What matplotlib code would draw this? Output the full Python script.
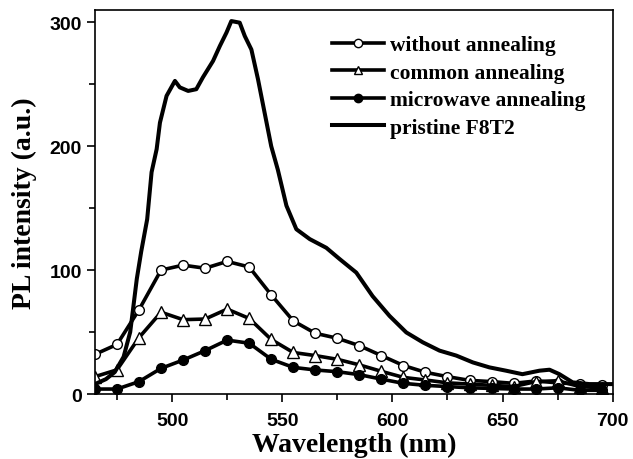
import numpy as np
import matplotlib.pyplot as plt

# marker series, every 10 nm
wl = [465, 475, 485, 495, 505, 515, 525, 535, 545, 555, 565, 575,
      585, 595, 605, 615, 625, 635, 645, 655, 665, 675, 685, 695]
without_ann = [32, 40, 68, 100, 104, 101.5, 107, 102.5, 80, 59, 49, 45,
               39, 31, 23, 17.5, 14, 11, 10, 8.6, 10.5, 9, 8, 7]
common_ann = [14, 19.5, 45.5, 66, 60, 60.5, 68.5, 61, 44, 33.5, 31, 28,
              23.5, 18.3, 13.4, 11.3, 9, 8, 7, 6, 10, 10.7, 6, 5]
microwave_ann = [4, 4, 10, 20.7, 27.4, 35, 43.5, 41, 28, 21.5, 19.4, 18,
                 15.6, 12, 8.6, 7, 6, 5, 4.5, 4, 4, 5, 3, 3]

# pristine F8T2 spectrum
wl_p = [465, 470, 474, 478, 481, 484, 486, 488.7, 490.7, 493, 494.5, 497.5,
        501.3, 503.5, 507.3, 511, 514, 518.6, 521.7, 524.7, 526.9, 530.7,
        533, 536, 539, 542, 545, 548, 551.9, 556.4, 562.5, 570, 576, 583.6,
        591, 598.7, 606.3, 613.8, 621.4, 629, 636.5, 644, 651.6, 659, 666.7,
        671.3, 675.8, 681.8, 689.4, 698.5, 700]
pristine = [8, 12, 17.7, 30, 50, 93, 115, 141, 179, 197.6, 219, 240.6,
            252.7, 247.5, 244.6, 246, 255.6, 268.8, 280.9, 291.7, 301, 299.7,
            288.9, 278, 254, 227, 200, 181, 152, 133, 125, 118, 109, 98,
            79, 63, 49.7, 41.7, 35, 31, 25.5, 21.5, 18.8, 16, 18.8,
            19.6, 16, 9.4, 8, 8, 8]

fig = plt.figure(figsize=(6.33, 4.6), dpi=100)
ax = fig.add_axes([0.150, 0.1413, 0.818, 0.835])

lw = 2.6
ax.plot(wl, without_ann, color='black', lw=lw, marker='o', ms=7,
        mfc='white', mec='black', mew=1, label='without annealing')
ax.plot(wl, common_ann, color='black', lw=lw, marker='^', ms=8,
        mfc='white', mec='black', mew=1, label='common annealing')
ax.plot(wl, microwave_ann, color='black', lw=lw, marker='o', ms=7,
        mfc='black', mec='black', label='microwave annealing')
ax.plot(wl_p, pristine, color='black', lw=2.9, label='pristine F8T2')

ax.set_xlim(465, 700)
ax.set_ylim(0, 310)
ax.set_xticks([500, 550, 600, 650, 700])
ax.set_xticks(np.arange(475, 701, 25), minor=True)
ax.set_yticks([0, 100, 200, 300])
ax.set_yticks([50, 150, 250], minor=True)
ax.tick_params(direction='out', length=6, width=1.2, top=False, right=False)
ax.tick_params(axis='x', pad=7)
ax.tick_params(which='minor', direction='out', length=4, width=1.2)
for lab in ax.get_xticklabels() + ax.get_yticklabels():
    lab.set_fontfamily('Liberation Sans')
    lab.set_fontweight('bold')
    lab.set_fontsize(14)
for sp in ax.spines.values():
    sp.set_linewidth(1.2)

ax.set_xlabel('Wavelength (nm)', family='Liberation Serif', weight='bold',
              fontsize=20, labelpad=2)
ax.set_ylabel('PL intensity (a.u.)', family='Liberation Serif', weight='bold',
              fontsize=20, labelpad=9)

leg = ax.legend(loc='upper right', bbox_to_anchor=(0.985, 0.985), frameon=False,
                prop={'family': 'Liberation Serif', 'weight': 'bold', 'size': 15.5},
                handlelength=2.4, handletextpad=0.3, labelspacing=0.35)
for h in leg.legend_handles:
    h.set_markersize(6)

fig.savefig('out.png', dpi=100)
